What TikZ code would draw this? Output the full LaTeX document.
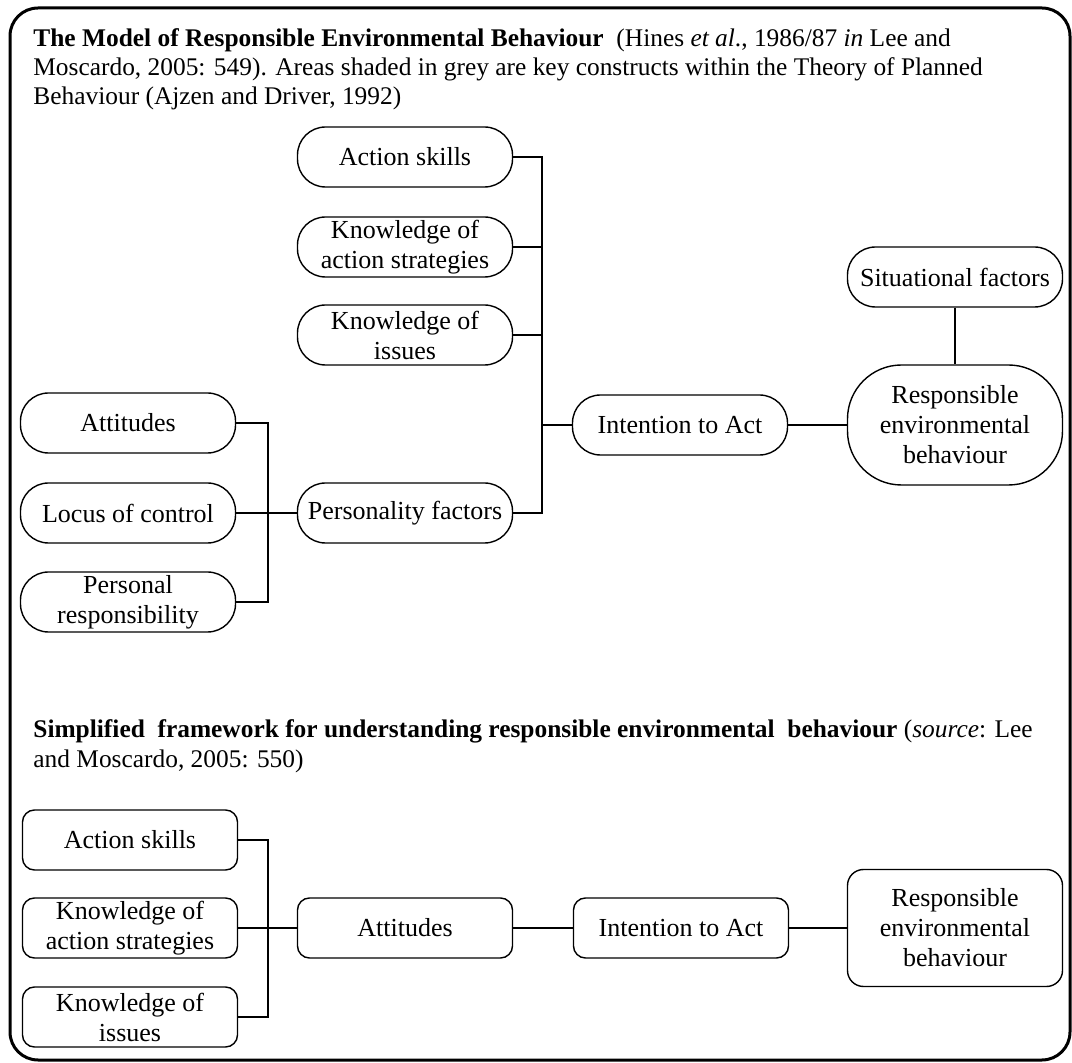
\documentclass[tikz,border=0pt]{standalone}
\usepackage{fontspec}
\setmainfont{Liberation Serif}
\usepackage{tikz}
\usetikzlibrary{positioning}
\newcommand{\diagfont}{\fontsize{13}{15}\selectfont}
\newcommand{\capfont}{\fontsize{12.7}{14.5}\selectfont}
\tikzset{pill/.style={draw, line width=0.7pt, rounded corners=14pt, minimum width=107.5pt, minimum height=30pt, inner sep=1pt, align=center, font=\diagfont}}
\tikzset{rbox/.style={pill, rounded corners=6pt}}
\tikzset{capline/.style={anchor=base west, inner sep=0pt, font=\capfont}}
\tikzset{conn/.style={draw, line width=0.8pt}}

\begin{document}
\begin{tikzpicture}[x=0.5pt, y=-0.5pt]
    \useasboundingbox (0,0) rectangle (1072,1063);
    \draw[line width=1.5pt, rounded corners=14pt] (10,8) rectangle (1070,1060);

    % first model
    \node[capline] (capA1) at (33,47) {\textbf{The Model of Responsible Environmental Behaviour}\enspace(Hines \textit{et al}., 1986/87 \textit{in} Lee and};
    \node[capline] (capA2) at (33,76) {Moscardo, 2005: 549). Areas shaded in grey are key constructs within the Theory of Planned};
    \node[capline] (capA3) at (33,105) {Behaviour (Ajzen and Driver, 1992)};

    \node[pill] (AS) at (405,157) {Action skills};
    \node[pill] (KAS) at (405,247) {Knowledge of\\action strategies};
    \node[pill] (KI) at (405,335) {Knowledge of\\issues};
    \node[pill] (ATT) at (128,423) {Attitudes};
    \node[pill] (LOC) at (128,513) {Locus of control};
    \node[pill] (PR) at (128,602) {Personal\\responsibility};
    \node[pill] (PF) at (405,513) {Personality factors};
    \node[pill] (ITA) at (680,425) {Intention to Act};
    \node[pill] (SF) at (955,277) {Situational factors};
    \node[pill, minimum height=60pt, rounded corners=27pt] (REB) at (955,425) {Responsible\\environmental\\behaviour};

    \coordinate (jA) at (542,425);
    \coordinate (jB) at (268,513);
    \draw[conn] (AS.east) -| (jA);
    \draw[conn] (PF.east) -| (jA);
    \draw[conn] (KAS.east) -- (KAS.east -| jA);
    \draw[conn] (KI.east) -- (KI.east -| jA);
    \draw[conn] (jA) -- (ITA);
    \draw[conn] (ITA) -- (REB);
    \draw[conn] (SF) -- (SF |- REB.north);
    \draw[conn] (ATT.east) -| (jB);
    \draw[conn] (PR.east) -| (jB);
    \draw[conn] (LOC) -- (PF);

    % simplified framework
    \node[capline] (capB1) at (33,738) {\textbf{Simplified\ \ framework for understanding responsible environmental\ \ behaviour} (\textit{source}: Lee};
    \node[capline] (capB2) at (33,768) {and Moscardo, 2005: 550)};

    \node[rbox] (AS2) at (130,840) {Action skills};
    \node[rbox] (KAS2) at (130,928) {Knowledge of\\action strategies};
    \node[rbox] (KI2) at (130,1017) {Knowledge of\\issues};
    \node[rbox] (ATT2) at (405,928) {Attitudes};
    \node[rbox] (ITA2) at (681,928) {Intention to Act};
    \node[rbox, minimum height=58.5pt, rounded corners=8pt] (REB2) at (955,928) {Responsible\\environmental\\behaviour};

    \coordinate (jC) at (268,928);
    \draw[conn] (AS2.east) -| (jC);
    \draw[conn] (KI2.east) -| (jC);
    \draw[conn] (KAS2) -- (ATT2);
    \draw[conn] (ATT2) -- (ITA2);
    \draw[conn] (ITA2) -- (REB2);
\end{tikzpicture}
\end{document}
